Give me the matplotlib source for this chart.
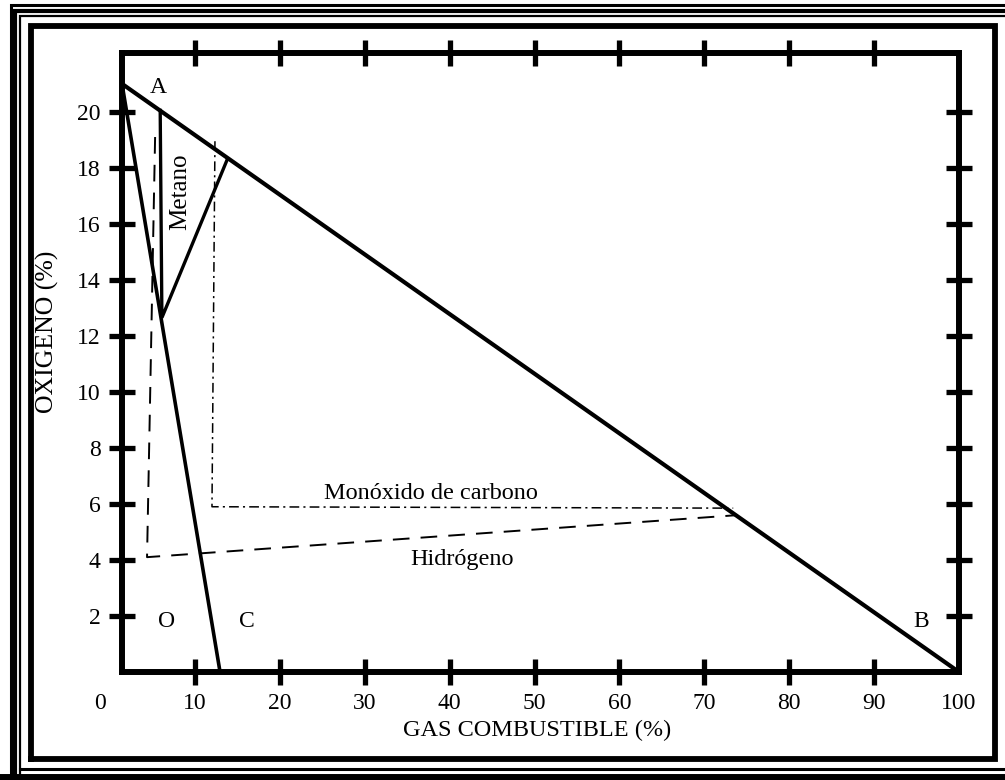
import matplotlib
matplotlib.use('Agg')
import matplotlib.pyplot as plt
from matplotlib.lines import Line2D

plt.rcParams['font.family'] = ['Liberation Serif', 'DejaVu Serif']
plt.rcParams['lines.scale_dashes'] = False

# límites de explosividad
ab_x = [1.4, 100.0]
ab_y = [21.0, 0.0]
oc_x = [1.4, 12.95]
oc_y = [21.0, 0.0]
metano_x = [5.9, 6.1, 13.8]
metano_y = [20.05, 12.65, 18.3]
co_x = [12.35, 12.0, 73.4]
co_y = [18.95, 5.9, 5.85]
h2_x = [5.3, 4.35, 73.85]
h2_y = [19.1, 4.1, 5.6]

x_ticks = [10, 20, 30, 40, 50, 60, 70, 80, 90, 100]
y_ticks = [2, 4, 6, 8, 10, 12, 14, 16, 18, 20]

W, H = 1005, 780
fig = plt.figure(figsize=(W / 100, H / 100), dpi=100)
ax = fig.add_axes([122 / W, 1 - 672 / H, (959 - 122) / W, (672 - 53) / H])


def frame_line(xs, ys, lw):
    # coordenadas en pixeles de la imagen (y hacia abajo)
    fig.add_artist(Line2D([x / W for x in xs], [1 - y / H for y in ys],
                          transform=fig.transFigure, color='black', lw=lw,
                          solid_joinstyle='miter', solid_capstyle='projecting'))


# marco exterior
frame_line([10.5, 10.5, 1010], [790, 4.5, 4.5], 2.2)
frame_line([15.2, 15.2, 1010], [790, 11, 11], 3.0)
frame_line([20, 20, 1010], [1010, 16, 16], 1.6)
frame_line([20, 1010], [768.5, 768.5], 2.2)
frame_line([0, 1010], [777, 777], 5.0)
frame_line([30.5, 30.5, 995, 995, 30.5], [758.5, 26, 26, 758.5, 758.5], 4.2)

ax.set_xlim(1.4, 100)
ax.set_ylim(0, 22.1)

ax.plot(ab_x, ab_y, color='black', lw=3.0, solid_capstyle='butt')
ax.plot(oc_x, oc_y, color='black', lw=2.6, solid_capstyle='butt')
ax.plot(metano_x, metano_y, color='black', lw=2.4, solid_joinstyle='miter')
ax.plot(co_x, co_y, color='black', lw=1.1, linestyle=(0, (7, 3, 1.5, 3)))
ax.plot(h2_x, h2_y, color='black', lw=1.4, linestyle=(0, (12, 8)))

for s in ax.spines.values():
    s.set_linewidth(4.3)

ax.set_xticks(x_ticks)
ax.set_xticklabels([str(v) for v in x_ticks])
ax.set_yticks(y_ticks)
ax.set_yticklabels([str(v) for v in y_ticks])
ax.tick_params(axis='both', direction='inout', length=18.5, width=3.8,
               labelsize=17, pad=6, top=True, right=True)
ax.xaxis.get_major_ticks()[-1].tick1line.set_visible(False)
ax.xaxis.get_major_ticks()[-1].tick2line.set_visible(False)

ax.text(-1.2, -0.75, '0', fontsize=17, ha='center', va='top')

ax.set_xlabel('GAS COMBUSTIBLE (%)', fontsize=17.5)
ax.xaxis.set_label_coords(0.4958, -0.078)
ax.set_ylabel('OXIGENO (%)', fontsize=18.5)
ax.yaxis.set_label_coords(-0.0755, 0.549)

ax.text(5.64, 20.86, 'A', fontsize=17, ha='center', va='center')
ax.text(8.25, 17.14, 'Metano', fontsize=18, rotation=90, ha='center', va='center')
ax.text(37.8, 6.39, 'Monóxido de carbono', fontsize=17.5, ha='center', va='center')
ax.text(41.45, 4.0, 'Hidrógeno', fontsize=17.5, ha='center', va='center')
ax.text(6.7, 1.79, 'O', fontsize=17, ha='center', va='center')
ax.text(16.1, 1.79, 'C', fontsize=17, ha='center', va='center')
ax.text(95.6, 1.79, 'B', fontsize=17, ha='center', va='center')

fig.savefig('out.png', dpi=100)
